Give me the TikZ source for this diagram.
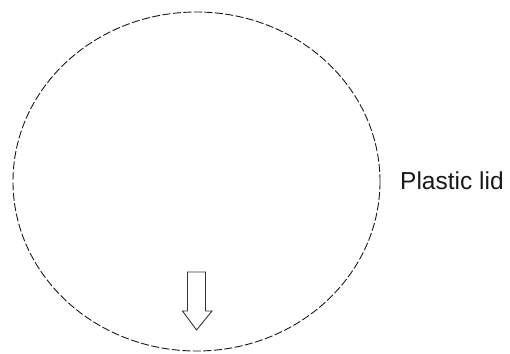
\documentclass[tikz,border=0pt]{standalone}
\usepackage{fontspec}
\setmainfont{Liberation Sans}
\begin{document}
\begin{tikzpicture}[x=1pt,y=-1pt,
  lidline/.style={draw=black!90, line width=0.9pt, dash pattern=on 8pt off 2.5pt},
  arrowline/.style={draw=black!80, line width=0.9pt, line join=miter},
  labeltext/.style={font=\fontsize{24.5}{28}\selectfont, text=black!90, inner sep=0pt, anchor=base west}]
  \useasboundingbox (0,0) rectangle (510,353);
  \coordinate (c) at (196.5,181.5);
  \draw[lidline] (c) ellipse [x radius=183.5, y radius=169.5];
  \draw[arrowline] (187.5,272) -- (205.5,272) -- (205.5,311) -- (212,311) -- (196.5,330) -- (182.5,311) -- (187.5,311) -- cycle;
  \node[labeltext] (label) at (400,189) {Plastic lid};
\end{tikzpicture}
\end{document}
